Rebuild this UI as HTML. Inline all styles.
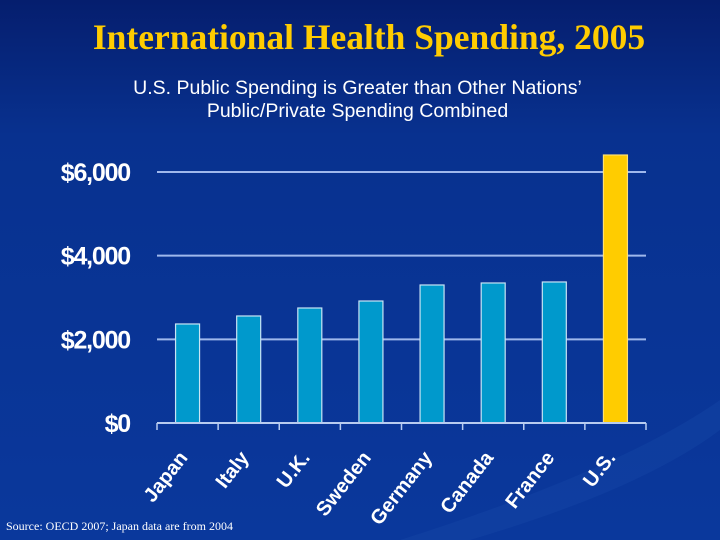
<!DOCTYPE html>
<html><head><meta charset="utf-8"><style>
html,body{margin:0;padding:0}
body{width:720px;height:540px;overflow:hidden;background:linear-gradient(#051e6e 0%,#08318f 25%,#0a389c 100%);position:relative;font-family:"Liberation Sans",sans-serif}
#title{position:absolute;left:0;width:738px;top:16px;text-align:center;font-family:"Liberation Serif",serif;font-weight:bold;font-size:35.5px;color:#ffcc00}
#sub{position:absolute;left:0;width:715px;top:77px;text-align:center;font-size:19.5px;color:#fff;line-height:23px}
#src{position:absolute;left:6px;top:519px;font-family:"Liberation Serif",serif;font-size:12px;color:#fff}
svg{position:absolute;left:0;top:0}
</style></head><body>
<div id="title">International Health Spending, 2005</div>
<div id="sub">U.S. Public Spending is Greater than Other Nations’<br>Public/Private Spending Combined</div>
<svg id="chart" width="720" height="540">
<path d="M400 540 Q620 470 720 400 L720 430 Q640 490 470 540Z" fill="#1a4aa8" opacity="0.35"/>
</svg>
<div id="src">Source: OECD 2007; Japan data are from 2004</div>
<script>
const categories=["Japan","Italy","U.K.","Sweden","Germany","Canada","France","U.S."];
const values=[2367,2558,2749,2916,3299,3347,3371,6406];
const ticks=[0,2000,4000,6000];
const tickLabels=["$0","$2,000","$4,000","$6,000"];
const svg=document.getElementById('chart');
const NS='http://www.w3.org/2000/svg';
const x0=157,x1=646,y0=423,yTop=172;
const y=v=>y0-(v/6000)*(y0-yTop);
const bw=(x1-x0)/categories.length;
function mk(t,a){const e=document.createElementNS(NS,t);for(const k in a)e.setAttribute(k,a[k]);svg.appendChild(e);return e;}
ticks.forEach((t,i)=>{
 if(t>0){const g=mk('line',{x1:x0,x2:x1,y1:y(t),y2:y(t),stroke:'#9fb8ec','stroke-width':2});
 
 }
 const l=mk('text',{x:130,y:y(t)+9,'text-anchor':'end',fill:'#fff','font-size':25,'font-weight':'bold','font-family':'Liberation Sans, sans-serif','letter-spacing':'-1.2'});
 l.textContent=tickLabels[i];
 
 
});
values.forEach((v,i)=>{
 const cx=x0+bw*(i+0.5);
 const r=mk('rect',{x:cx-12,y:y(v),width:24,height:y0-y(v),fill:i==7?'#ffcc00':'#0099cc',stroke:i==7?'#ffe070':'#c8e4f4','stroke-width':1.2});
 
 
 const t=mk('text',{x:0,y:0,transform:`translate(${cx+1},${y0+35}) rotate(-52)`,'text-anchor':'end',fill:'#fff','font-size':20,'font-weight':'bold','font-family':'Liberation Sans, sans-serif'});
 t.textContent=categories[i];
 
 
});
const ax=mk('line',{x1:x0,x2:x1,y1:y0,y2:y0,stroke:'#b8ccf0','stroke-width':2});


for(let i=0;i<=categories.length;i++){const xx=x0+bw*i;const tk=mk('line',{x1:xx,x2:xx,y1:y0,y2:y0+7,stroke:'#b8ccf0','stroke-width':1.5});
 
 }
</script>
</body></html>
